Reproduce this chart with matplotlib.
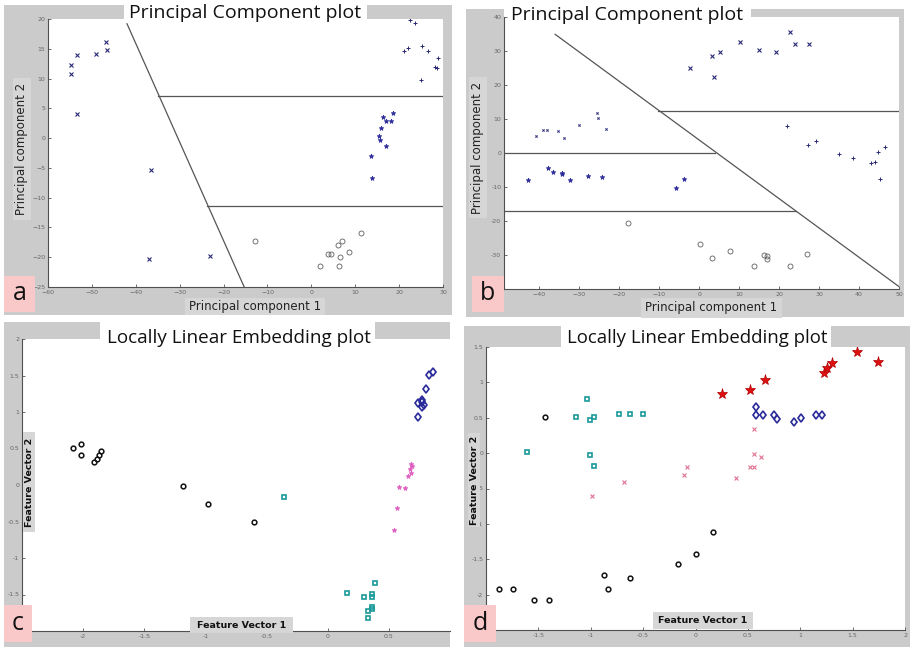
import matplotlib
matplotlib.use('Agg')
import matplotlib.pyplot as plt
from matplotlib.patches import Rectangle

# ---------------- data ----------------
# Panel a (PCA)
a_x_x = [-54.8, -54.7, -53.3, -49.0, -46.8, -46.5, -53.5, -36.6, -36.9, -23.2]
a_x_y = [10.7, 12.2, 13.9, 14.1, 16.1, 14.8, 4.1, -5.4, -20.3, -19.8]
a_plus_x = [22.4, 23.7, 21.1, 22.0, 25.2, 26.5, 28.9, 28.1, 28.6, 25.1]
a_plus_y = [19.8, 19.4, 14.7, 15.1, 15.4, 14.6, 13.4, 12.0, 11.8, 9.7]
a_star_x = [18.6, 16.3, 16.9, 18.2, 15.9, 15.4, 15.6, 16.9, 13.6, 13.8]
a_star_y = [4.2, 3.5, 2.9, 2.9, 1.7, 0.3, -0.3, -1.4, -3.0, -6.7]
a_circ_x = [-12.8, 1.9, 3.7, 4.5, 6.1, 7.0, 6.5, 6.2, 8.5, 11.3]
a_circ_y = [-17.2, -21.5, -19.4, -19.4, -17.9, -17.2, -19.9, -21.5, -19.1, -15.9]
a_diag_x = [-42.0, -15.3]
a_diag_y = [19.2, -25.0]
a_h1_x = [-34.9, 30.0]
a_h1_y = [7.0, 7.0]
a_h2_x = [-23.7, 30.0]
a_h2_y = [-11.35, -11.35]
a_xticks = [-60, -50, -40, -30, -20, -10, 0, 10, 20, 30]
a_yticks = [-25, -20, -15, -10, -5, 0, 5, 10, 15, 20]

# Panel b (PCA)
b_x_x = [-2.2, 3.2, 5.2, 3.7, 10.3, 14.9, 19.3, 22.7, 24.1, 27.6]
b_x_y = [25.1, 28.5, 29.7, 22.4, 32.5, 30.3, 29.7, 35.6, 32.0, 32.0]
b_dot_x = [-40.7, -39.0, -38.1, -35.2, -33.9, -30.0, -25.6, -25.2, -23.2]
b_dot_y = [5.0, 6.7, 6.7, 6.5, 4.5, 8.2, 11.9, 10.3, 7.0]
b_star_x = [-42.9, -37.7, -36.6, -34.3, -34.2, -32.4, -27.8, -24.3, -5.8, -3.7]
b_star_y = [-8.0, -4.5, -5.6, -6.1, -5.8, -8.0, -6.9, -7.2, -10.4, -7.5]
b_plus_x = [22.0, 27.3, 29.2, 35.1, 38.5, 43.0, 43.9, 44.7, 46.4, 45.2]
b_plus_y = [7.8, 2.5, 3.5, -0.2, -1.5, -2.9, -2.5, 0.2, 1.8, -7.7]
b_circ_x = [-17.7, 0.3, 3.2, 7.8, 13.7, 16.3, 17.0, 17.0, 22.8, 26.9]
b_circ_y = [-20.5, -26.7, -30.8, -28.8, -33.3, -29.9, -30.3, -31.1, -33.3, -29.6]
b_diag_x = [-36.0, 50.0]
b_diag_y = [34.9, -39.3]
b_h1_x = [-10.2, 50.0]
b_h1_y = [12.5, 12.5]
b_h2_x = [-48.8, 4.1]
b_h2_y = [0.0, 0.0]
b_h3_x = [-48.8, 24.3]
b_h3_y = [-17.0, -17.0]
b_xticks = [-40, -30, -20, -10, 0, 10, 20, 30, 40, 50]
b_yticks = [-40, -30, -20, -10, 0, 10, 20, 30, 40]
b_ylabels = ['', '-30', '-20', '-10', '0', '10', '20', '30', '40']

# Panel c (LLE)
c_circ_x = [-2.08, -2.02, -2.02, -1.91, -1.89, -1.87, -1.85, -1.18, -0.98, -0.60]
c_circ_y = [0.51, 0.56, 0.41, 0.32, 0.36, 0.41, 0.46, -0.02, -0.26, -0.51]
c_sq_x = [-0.36, 0.16, 0.30, 0.36, 0.36, 0.39, 0.33, 0.36, 0.36, 0.33]
c_sq_y = [-0.17, -1.48, -1.53, -1.49, -1.54, -1.34, -1.73, -1.67, -1.70, -1.82]
c_ast_x = [0.68, 0.69, 0.67, 0.68, 0.66, 0.58, 0.63, 0.57, 0.54]
c_ast_y = [0.29, 0.26, 0.22, 0.16, 0.12, -0.03, -0.04, -0.32, -0.62]
c_dia_x = [0.86, 0.83, 0.80, 0.74, 0.77, 0.79, 0.77, 0.74, 0.77]
c_dia_y = [1.55, 1.51, 1.31, 1.12, 1.14, 1.10, 1.07, 0.93, 1.17]
c_xticks = [-2.5, -2, -1.5, -1, -0.5, 0, 0.5]
c_xlabels = ['', '-2', '-1.5', '-1', '-0.5', '0', '0.5']
c_yticks = [-2, -1.5, -1, -0.5, 0, 0.5, 1, 1.5, 2]
c_ylabels = ['', '-1.5', '-1', '-0.5', '0', '0.5', '1', '1.5', '2']

# Panel d (LLE)
d_circ_x = [-1.88, -1.74, -1.54, -1.40, -0.87, -0.84, -0.63, -0.17, 0.0, 0.17, -1.44]
d_circ_y = [-1.92, -1.92, -2.07, -2.07, -1.72, -1.92, -1.77, -1.57, -1.42, -1.12, 0.51]
d_sq_x = [-1.61, -1.04, -1.14, -1.01, -0.97, -0.73, -0.63, -0.50, -1.01, -0.97]
d_sq_y = [0.02, 0.76, 0.51, 0.47, 0.51, 0.56, 0.56, 0.56, -0.03, -0.18]
d_x_x = [-0.99, -0.68, -0.11, -0.08, 0.39, 0.52, 0.56, 0.56, 0.63, 0.56]
d_x_y = [-0.61, -0.41, -0.31, -0.20, -0.35, -0.20, -0.19, -0.01, -0.06, 0.34]
d_dia_x = [0.58, 0.58, 0.64, 0.75, 0.78, 0.94, 1.01, 1.15, 1.21]
d_dia_y = [0.65, 0.54, 0.54, 0.54, 0.48, 0.44, 0.49, 0.54, 0.54]
d_star_x = [0.25, 0.52, 0.66, 1.23, 1.26, 1.30, 1.54, 1.74]
d_star_y = [0.83, 0.89, 1.04, 1.13, 1.21, 1.28, 1.43, 1.29]
d_xticks = [-2, -1.5, -1, -0.5, 0, 0.5, 1, 1.5, 2]
d_xlabels = ['', '-1.5', '-1', '-0.5', '0', '0.5', '1', '1.5', '2']
d_yticks = [-2.5, -2, -1.5, -1, -0.5, 0, 0.5, 1, 1.5]
d_ylabels = ['', '-2', '-1.5', '-1', '-0.5', '0', '0.5', '1', '1.5']

# ---------------- figure ----------------
W, H = 913, 650
fig = plt.figure(figsize=(W / 100, H / 100), dpi=100)
fig.patch.set_facecolor('white')

PANEL = '#cbcbcb'
LABBOX = '#d6d6d6'
PINK = '#f9c8c8'


def rect(x0, y0, x1, y1, color, z):
    fig.add_artist(Rectangle((x0 / W, 1 - y1 / H), (x1 - x0) / W, (y1 - y0) / H,
                             transform=fig.transFigure, facecolor=color,
                             edgecolor='none', zorder=z))


def ftext(x, y, s, **kw):
    fig.text(x / W, 1 - y / H, s, transform=fig.transFigure, zorder=5, **kw)


def make_axes(l, t, r, b):
    ax = fig.add_axes([l / W, 1 - b / H, (r - l) / W, (b - t) / H])
    ax.set_facecolor('white')
    for s in ('top', 'right'):
        ax.spines[s].set_visible(False)
    for s in ('left', 'bottom'):
        ax.spines[s].set_color('#505050')
        ax.spines[s].set_linewidth(0.8)
    ax.tick_params(direction='in', length=2.5, width=0.6, color='#555555',
                   labelsize=4.5, labelcolor='#666666', pad=2)
    return ax


# panel backgrounds
rect(4, 5, 452, 315, PANEL, -10)
rect(466, 9, 904, 317, PANEL, -10)
rect(4, 322, 450, 647, PANEL, -10)
rect(464, 326, 910, 647, PANEL, -10)

NAVY = '#2a2a7a'
LINE = '#555555'

# ---- panel a ----
ax = make_axes(48, 19, 443, 287)
ax.plot(a_x_x, a_x_y, 'x', color=NAVY, ms=2.2, mew=0.8, ls='none')
ax.plot(a_plus_x, a_plus_y, '+', color=NAVY, ms=3.5, mew=0.7, ls='none')
ax.plot(a_star_x, a_star_y, '*', color='#2a2a9a', ms=3.5, mew=0.5, ls='none')
ax.plot(a_circ_x, a_circ_y, 'o', mfc='none', mec='#606060', ms=3.6, mew=0.6, ls='none')
for xs, ys in ((a_diag_x, a_diag_y), (a_h1_x, a_h1_y), (a_h2_x, a_h2_y)):
    ax.plot(xs, ys, color=LINE, lw=0.9)
ax.set_xlim(-60, 30)
ax.set_ylim(-25, 20)
ax.set_xticks(a_xticks)
ax.set_yticks(a_yticks)

# ---- panel b ----
ax = make_axes(504, 17, 899, 289)
ax.plot(b_x_x, b_x_y, 'x', color=NAVY, ms=2.2, mew=0.8, ls='none')
ax.plot(b_dot_x, b_dot_y, 'x', color=NAVY, ms=1.6, mew=0.7, ls='none')
ax.plot(b_star_x, b_star_y, '*', color='#2a2a9a', ms=3.5, mew=0.5, ls='none')
ax.plot(b_plus_x, b_plus_y, '+', color=NAVY, ms=3.5, mew=0.7, ls='none')
ax.plot(b_circ_x, b_circ_y, 'o', mfc='none', mec='#606060', ms=3.6, mew=0.6, ls='none')
for xs, ys in ((b_diag_x, b_diag_y), (b_h1_x, b_h1_y), (b_h2_x, b_h2_y), (b_h3_x, b_h3_y)):
    ax.plot(xs, ys, color=LINE, lw=0.9)
ax.set_xlim(-48.8, 50)
ax.set_ylim(-40, 40)
ax.set_xticks(b_xticks)
ax.set_yticks(b_yticks)
ax.set_yticklabels(b_ylabels)

# ---- panel c ----
ax = make_axes(22, 339, 450, 631)
ax.plot(c_circ_x, c_circ_y, 'o', mfc='none', mec='#111111', ms=3.4, mew=1.1, ls='none')
ax.plot(c_sq_x, c_sq_y, 's', mfc='none', mec='#1a9a9a', ms=3.4, mew=1.2, ls='none')
ax.plot(c_ast_x, c_ast_y, '*', color='#e060c0', ms=3.5, mew=0.6, ls='none')
ax.plot(c_dia_x, c_dia_y, 'd', mfc='none', mec='#2a2a9a', ms=4.5, mew=1.2, ls='none')
ax.set_xlim(-2.5, 1.0)
ax.set_ylim(-2, 2)
ax.set_xticks(c_xticks)
ax.set_xticklabels(c_xlabels)
ax.set_yticks(c_yticks)
ax.set_yticklabels(c_ylabels)

# ---- panel d ----
ax = make_axes(486, 347, 905, 630)
ax.plot(d_circ_x, d_circ_y, 'o', mfc='none', mec='#111111', ms=3.4, mew=1.1, ls='none')
ax.plot(d_sq_x, d_sq_y, 's', mfc='none', mec='#1a9a9a', ms=3.4, mew=1.2, ls='none')
ax.plot(d_x_x, d_x_y, 'x', color='#e07090', ms=3.0, mew=0.8, ls='none')
ax.plot(d_dia_x, d_dia_y, 'd', mfc='none', mec='#2a2a9a', ms=4.5, mew=1.2, ls='none')
ax.plot(d_star_x, d_star_y, '*', color='#e01010', mec='#b00000', ms=8, mew=0.5, ls='none')
ax.set_xlim(-2, 2)
ax.set_ylim(-2.5, 1.5)
ax.set_xticks(d_xticks)
ax.set_xticklabels(d_xlabels)
ax.set_yticks(d_yticks)
ax.set_yticklabels(d_ylabels)

# ---- titles ----
TF = ['Open Sans', 'DejaVu Sans']
rect(124, 0, 367, 20, 'white', 3)
ftext(245.5, 18, 'Principal Component plot', ha='center', va='baseline',
      fontsize=14, family=TF, color='#111111')
rect(504, 0, 751, 17, 'white', 3)
ftext(627.5, 20, 'Principal Component plot', ha='center', va='baseline',
      fontsize=14, family=TF, color='#111111')
rect(100, 322, 375, 345, 'white', 3)
ftext(239, 343, 'Locally Linear Embedding plot', ha='center', va='baseline',
      fontsize=13.6, family=TF, color='#111111')
rect(561, 321, 831, 347, 'white', 3)
ftext(697, 343, 'Locally Linear Embedding plot', ha='center', va='baseline',
      fontsize=13.4, family=TF, color='#111111')

# ---- axis labels ----
LF = ['DejaVu Sans']
rect(185, 298, 325, 315, LABBOX, 3)
ftext(255, 306.5, 'Principal component 1', ha='center', va='center', fontsize=8.5,
      family=LF, color='#222222')
rect(13, 78, 31, 220, LABBOX, 3)
ftext(22, 149, 'Principal component 2', ha='center', va='center', fontsize=8.5,
      family=LF, color='#222222', rotation=90)
rect(641, 298, 782, 318, LABBOX, 3)
ftext(711.5, 308, 'Principal component 1', ha='center', va='center', fontsize=8.5,
      family=LF, color='#222222')
rect(469, 77, 487, 218, LABBOX, 3)
ftext(478, 147.5, 'Principal component 2', ha='center', va='center', fontsize=8.5,
      family=LF, color='#222222', rotation=90)

rect(190, 617, 293, 633, LABBOX, 3)
ftext(241.5, 625, 'Feature Vector 1', ha='center', va='center', fontsize=6.8,
      family=LF, weight='bold', color='#111111')
rect(23, 432, 35, 532, LABBOX, 3)
ftext(29, 482, 'Feature Vector 2', ha='center', va='center', fontsize=6.8,
      family=LF, weight='bold', color='#111111', rotation=90)
rect(653, 612, 753, 629, LABBOX, 3)
ftext(703, 620.5, 'Feature Vector 1', ha='center', va='center', fontsize=6.8,
      family=LF, weight='bold', color='#111111')
rect(468, 433, 480, 527, LABBOX, 3)
ftext(474, 480, 'Feature Vector 2', ha='center', va='center', fontsize=6.8,
      family=LF, weight='bold', color='#111111', rotation=90)

# ---- panel letters ----
for (x0, y0, x1, y1, s) in ((4, 276, 35, 312, 'a'), (472, 276, 504, 312, 'b'),
                            (4, 605, 32, 642, 'c'), (464, 605, 496, 642, 'd')):
    rect(x0, y0, x1, y1, PINK, 3)
    ftext((x0 + x1) / 2, (y0 + y1) / 2, s, ha='center', va='center',
          fontsize=18, family=TF, color='#111111')

fig.savefig('out.png', dpi=100, facecolor='white')
